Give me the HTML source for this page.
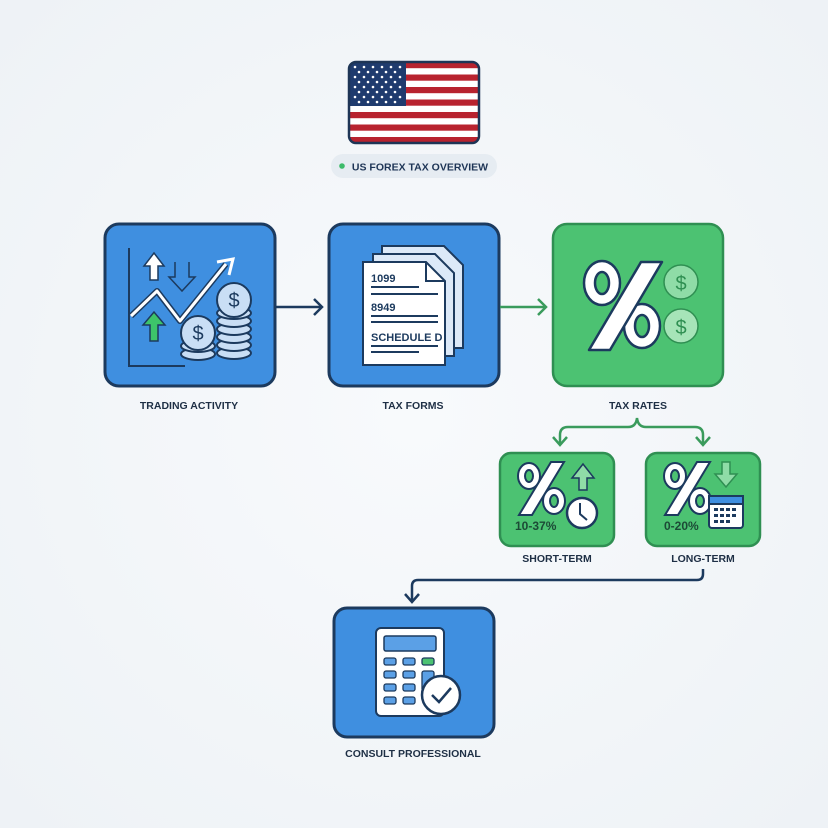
<!DOCTYPE html>
<html><head><meta charset="utf-8"><style>
html,body{margin:0;padding:0;background:#f4f7fa;}
svg{display:block;}
text{font-family:"Liberation Sans",sans-serif;}
</style></head><body>
<svg width="828" height="828" viewBox="0 0 828 828" xmlns="http://www.w3.org/2000/svg">
<defs>
<radialGradient id="bg" cx="50%" cy="50%" r="70%"><stop offset="0" stop-color="#f8fafc"/><stop offset="1" stop-color="#eef2f6"/></radialGradient>
<clipPath id="fc"><rect x="349" y="62" width="130" height="81" rx="7"/></clipPath>
</defs>
<rect width="828" height="828" fill="url(#bg)"/>

<!-- Flag -->
<g clip-path="url(#fc)">
<rect x="349" y="62" width="130" height="81" fill="#fff"/>
<g fill="#b8232f">
<rect x="349" y="62" width="130" height="6.2"/><rect x="349" y="74.5" width="130" height="6.2"/><rect x="349" y="87" width="130" height="6.2"/><rect x="349" y="99.5" width="130" height="6.2"/><rect x="349" y="112" width="130" height="6.2"/><rect x="349" y="124.5" width="130" height="6.2"/><rect x="349" y="137" width="130" height="6.2"/>
</g>
<rect x="349" y="62" width="57" height="44" fill="#1f3b6e"/>
<g fill="#fff">
<circle cx="355" cy="67" r="1.3"/><circle cx="364" cy="67" r="1.3"/><circle cx="373" cy="67" r="1.3"/><circle cx="382" cy="67" r="1.3"/><circle cx="391" cy="67" r="1.3"/><circle cx="400" cy="67" r="1.3"/>
<circle cx="359" cy="72" r="1.3"/><circle cx="368" cy="72" r="1.3"/><circle cx="377" cy="72" r="1.3"/><circle cx="386" cy="72" r="1.3"/><circle cx="395" cy="72" r="1.3"/>
<circle cx="355" cy="77" r="1.3"/><circle cx="364" cy="77" r="1.3"/><circle cx="373" cy="77" r="1.3"/><circle cx="382" cy="77" r="1.3"/><circle cx="391" cy="77" r="1.3"/><circle cx="400" cy="77" r="1.3"/>
<circle cx="359" cy="82" r="1.3"/><circle cx="368" cy="82" r="1.3"/><circle cx="377" cy="82" r="1.3"/><circle cx="386" cy="82" r="1.3"/><circle cx="395" cy="82" r="1.3"/>
<circle cx="355" cy="87" r="1.3"/><circle cx="364" cy="87" r="1.3"/><circle cx="373" cy="87" r="1.3"/><circle cx="382" cy="87" r="1.3"/><circle cx="391" cy="87" r="1.3"/><circle cx="400" cy="87" r="1.3"/>
<circle cx="359" cy="92" r="1.3"/><circle cx="368" cy="92" r="1.3"/><circle cx="377" cy="92" r="1.3"/><circle cx="386" cy="92" r="1.3"/><circle cx="395" cy="92" r="1.3"/>
<circle cx="355" cy="97" r="1.3"/><circle cx="364" cy="97" r="1.3"/><circle cx="373" cy="97" r="1.3"/><circle cx="382" cy="97" r="1.3"/><circle cx="391" cy="97" r="1.3"/><circle cx="400" cy="97" r="1.3"/>
<circle cx="359" cy="102" r="1.3"/><circle cx="368" cy="102" r="1.3"/><circle cx="377" cy="102" r="1.3"/><circle cx="386" cy="102" r="1.3"/><circle cx="395" cy="102" r="1.3"/>
</g>
</g>
<rect x="349" y="62" width="130" height="81" rx="7" fill="none" stroke="#1e3556" stroke-width="2.5"/>

<!-- pill -->
<rect x="331" y="154" width="166" height="24" rx="12" fill="#e6ecf2"/>
<circle cx="342" cy="166" r="2.8" fill="#3dbb6a"/>
<text x="420" y="170.5" text-anchor="middle" font-size="10.5" font-weight="bold" fill="#1e3556">US FOREX TAX OVERVIEW</text>

<!-- Box 1 -->
<rect x="105" y="224" width="170" height="162" rx="14" fill="#3f8fe0" stroke="#1c3a5e" stroke-width="3"/>
<polyline points="129,248 129,366 185,366" fill="none" stroke="#1c3a5e" stroke-width="2"/>
<polyline points="131,316 157,291 180,321 226,264" fill="none" stroke="#1c3a5e" stroke-width="6" stroke-linejoin="round"/>
<polyline points="131,316 157,291 180,321 226,264" fill="none" stroke="#fff" stroke-width="3" stroke-linejoin="round"/>
<path d="M217,262 L233,259 L229,275" fill="none" stroke="#fff" stroke-width="3"/>
<path d="M150,280 v-14 h-6 l10,-13 l10,13 h-6 v14z" fill="#fff" stroke="#1c3a5e" stroke-width="1.5"/>
<path d="M175,262 v15 h-6 l13,14 l13,-14 h-6 v-15" fill="none" stroke="#1c3a5e" stroke-width="1.5"/>
<path d="M150,341 v-16 h-7 l11,-13 l11,13 h-7 v16z" fill="#3dc46a" stroke="#1c3a5e" stroke-width="1.5"/>
<g stroke="#1c3a5e" stroke-width="2" fill="#c9def5">
<ellipse cx="234" cy="353" rx="17" ry="6"/><ellipse cx="234" cy="345" rx="17" ry="6"/><ellipse cx="234" cy="337" rx="17" ry="6"/><ellipse cx="234" cy="329" rx="17" ry="6"/><ellipse cx="234" cy="321" rx="17" ry="6"/><ellipse cx="234" cy="313" rx="17" ry="6"/>
<circle cx="234" cy="300" r="17"/>
<ellipse cx="198" cy="354" rx="17" ry="6"/><ellipse cx="198" cy="346" rx="17" ry="6"/>
<circle cx="198" cy="333" r="17"/>
</g>
<text x="234" y="307" text-anchor="middle" font-size="20" fill="#1c3a5e">$</text>
<text x="198" y="340" text-anchor="middle" font-size="20" fill="#1c3a5e">$</text>
<text x="189" y="409" text-anchor="middle" font-size="10.5" font-weight="bold" fill="#1e2f45">TRADING ACTIVITY</text>

<!-- arrow 1 -->
<line x1="276" y1="307" x2="322" y2="307" stroke="#1c3a5e" stroke-width="2.5"/>
<polyline points="314,299 322,307 314,315" fill="none" stroke="#1c3a5e" stroke-width="2.5"/>

<!-- Box 2 -->
<rect x="329" y="224" width="170" height="162" rx="14" fill="#3f8fe0" stroke="#1c3a5e" stroke-width="3"/>
<g stroke="#1c3a5e" stroke-width="2" fill="#dce9f8">
<path d="M382,246 h62 l19,19 v83 h-81z"/>
<path d="M373,254 h62 l19,19 v83 h-81z"/>
</g>
<path d="M363,262 h63 l19,19 v84 h-82z" fill="#fff" stroke="#1c3a5e" stroke-width="2"/>
<path d="M426,262 v19 h19" fill="none" stroke="#1c3a5e" stroke-width="2"/>
<text x="371" y="282" font-size="11" font-weight="bold" fill="#1c3a5e">1099</text>
<text x="371" y="311" font-size="11" font-weight="bold" fill="#1c3a5e">8949</text>
<text x="371" y="341" font-size="11" font-weight="bold" fill="#1c3a5e">SCHEDULE D</text>
<g stroke="#1c3a5e" stroke-width="2">
<line x1="371" y1="287" x2="419" y2="287"/><line x1="371" y1="294" x2="438" y2="294"/>
<line x1="371" y1="316" x2="438" y2="316"/><line x1="371" y1="322" x2="438" y2="322"/>
<line x1="371" y1="346" x2="438" y2="346"/><line x1="371" y1="352" x2="419" y2="352"/>
</g>
<text x="413" y="409" text-anchor="middle" font-size="10.5" font-weight="bold" fill="#1e2f45">TAX FORMS</text>

<!-- arrow 2 -->
<line x1="500" y1="307" x2="546" y2="307" stroke="#3a9b5c" stroke-width="2.5"/>
<polyline points="538,299 546,307 538,315" fill="none" stroke="#3a9b5c" stroke-width="2.5"/>

<!-- Box 3 -->
<rect x="553" y="224" width="170" height="162" rx="14" fill="#4cc272" stroke="#2f8f52" stroke-width="2.5"/>
<g stroke="#2f8f52" stroke-width="1.5" fill="#8fdca7">
<circle cx="681" cy="282" r="17"/><circle cx="681" cy="326" r="17" fill="#a6e4b8"/>
</g>
<text x="681" y="290" text-anchor="middle" font-size="20" fill="#2f8f52">$</text>
<text x="681" y="334" text-anchor="middle" font-size="20" fill="#2f8f52">$</text>
<g stroke="#1c3a5e" stroke-width="2.5">
<ellipse cx="602" cy="283" rx="18" ry="22" fill="#fff"/>
<ellipse cx="602" cy="283" rx="7" ry="11" fill="#4cc272"/>
<ellipse cx="642" cy="326" rx="18" ry="22" fill="#fff"/>
<ellipse cx="642" cy="326" rx="7" ry="11" fill="#4cc272"/>
<polygon points="641,262 662,262 610,350 589,350" fill="#fff" stroke-linejoin="round"/>
</g>
<text x="638" y="409" text-anchor="middle" font-size="10.5" font-weight="bold" fill="#1e2f45">TAX RATES</text>

<!-- brace -->
<path d="M560,443 v-8 q0,-8 8,-8 h60 q8,0 9,-9 q1,9 9,9 h49 q8,0 8,8 v8" fill="none" stroke="#3a9b5c" stroke-width="2.5"/>
<polyline points="553,437 560,445 567,437" fill="none" stroke="#3a9b5c" stroke-width="2.5"/>
<polyline points="696,437 703,445 710,437" fill="none" stroke="#3a9b5c" stroke-width="2.5"/>

<!-- small box 1 -->
<rect x="500" y="453" width="114" height="93" rx="11" fill="#4cc272" stroke="#2f8f52" stroke-width="2.5"/>
<g stroke="#1c3a5e" stroke-width="2">
<ellipse cx="529" cy="476" rx="11" ry="13" fill="#fff"/>
<ellipse cx="529" cy="476" rx="4" ry="6" fill="#4cc272"/>
<ellipse cx="554" cy="501" rx="11" ry="13" fill="#fff"/>
<ellipse cx="554" cy="501" rx="4" ry="6" fill="#4cc272"/>
<polygon points="551,462 564,462 532,515 519,515" fill="#fff"/>
</g>
<path d="M579,490 v-12 h-7 l11,-14 l11,14 h-7 v12z" fill="#8fdca7" stroke="#1c3a5e" stroke-width="1.5"/>
<circle cx="582" cy="513" r="15" fill="#fff" stroke="#1c3a5e" stroke-width="2.5"/>
<polyline points="580,503 580,514 587,520" fill="none" stroke="#1c3a5e" stroke-width="2"/>
<text x="515" y="530" font-size="12" font-weight="bold" fill="#1c4a36">10-37%</text>
<text x="557" y="562" text-anchor="middle" font-size="10.5" font-weight="bold" fill="#1e2f45">SHORT-TERM</text>

<!-- small box 2 -->
<rect x="646" y="453" width="114" height="93" rx="11" fill="#4cc272" stroke="#2f8f52" stroke-width="2.5"/>
<g stroke="#1c3a5e" stroke-width="2">
<ellipse cx="675" cy="476" rx="11" ry="13" fill="#fff"/>
<ellipse cx="675" cy="476" rx="4" ry="6" fill="#4cc272"/>
<ellipse cx="700" cy="501" rx="11" ry="13" fill="#fff"/>
<ellipse cx="700" cy="501" rx="4" ry="6" fill="#4cc272"/>
<polygon points="697,462 710,462 678,515 665,515" fill="#fff"/>
</g>
<path d="M722,462 v12 h-7 l11,13 l11,-13 h-7 v-12z" fill="#8fdca7" stroke="#2f8f52" stroke-width="1.5"/>
<rect x="709" y="496" width="34" height="32" rx="3" fill="#fff" stroke="#1c3a5e" stroke-width="2"/>
<rect x="709" y="496" width="34" height="8" fill="#3f8fe0" stroke="#1c3a5e" stroke-width="2"/>
<g fill="#1c3a5e">
<rect x="714" y="508" width="4" height="3"/><rect x="720" y="508" width="4" height="3"/><rect x="726" y="508" width="4" height="3"/><rect x="732" y="508" width="4" height="3"/>
<rect x="714" y="514" width="4" height="3"/><rect x="720" y="514" width="4" height="3"/><rect x="726" y="514" width="4" height="3"/><rect x="732" y="514" width="4" height="3"/>
<rect x="714" y="520" width="4" height="3"/><rect x="720" y="520" width="4" height="3"/><rect x="726" y="520" width="4" height="3"/>
</g>
<text x="664" y="530" font-size="12" font-weight="bold" fill="#1c4a36">0-20%</text>
<text x="703" y="562" text-anchor="middle" font-size="10.5" font-weight="bold" fill="#1e2f45">LONG-TERM</text>

<!-- navy connector -->
<path d="M703,569 v5 q0,6 -6,6 h-279 q-6,0 -6,6 v15" fill="none" stroke="#1c3a5e" stroke-width="2.5"/>
<polyline points="405,594 412,602 419,594" fill="none" stroke="#1c3a5e" stroke-width="2.5"/>

<!-- bottom box -->
<rect x="334" y="608" width="160" height="129" rx="13" fill="#3f8fe0" stroke="#1c3a5e" stroke-width="3"/>
<rect x="376" y="628" width="68" height="88" rx="5" fill="#fff" stroke="#1c3a5e" stroke-width="2"/>
<rect x="384" y="636" width="52" height="15" rx="2" fill="#5ba0e6" stroke="#1c3a5e" stroke-width="1.5"/>
<g fill="#5ba0e6" stroke="#1c3a5e" stroke-width="1.3">
<rect x="384" y="658" width="12" height="7" rx="2"/><rect x="403" y="658" width="12" height="7" rx="2"/><rect x="422" y="658" width="12" height="7" rx="2" fill="#4cc272"/>
<rect x="384" y="671" width="12" height="7" rx="2"/><rect x="403" y="671" width="12" height="7" rx="2"/><rect x="422" y="671" width="12" height="20" rx="2"/>
<rect x="384" y="684" width="12" height="7" rx="2"/><rect x="403" y="684" width="12" height="7" rx="2"/>
<rect x="384" y="697" width="12" height="7" rx="2"/><rect x="403" y="697" width="12" height="7" rx="2"/>
</g>
<circle cx="441" cy="695" r="19" fill="#fff" stroke="#1c3a5e" stroke-width="2.5"/>
<polyline points="432,695 439,702 451,688" fill="none" stroke="#1c3a5e" stroke-width="2.5"/>
<text x="413" y="757" text-anchor="middle" font-size="10.5" font-weight="bold" fill="#1e2f45">CONSULT PROFESSIONAL</text>
</svg>
</body></html>
